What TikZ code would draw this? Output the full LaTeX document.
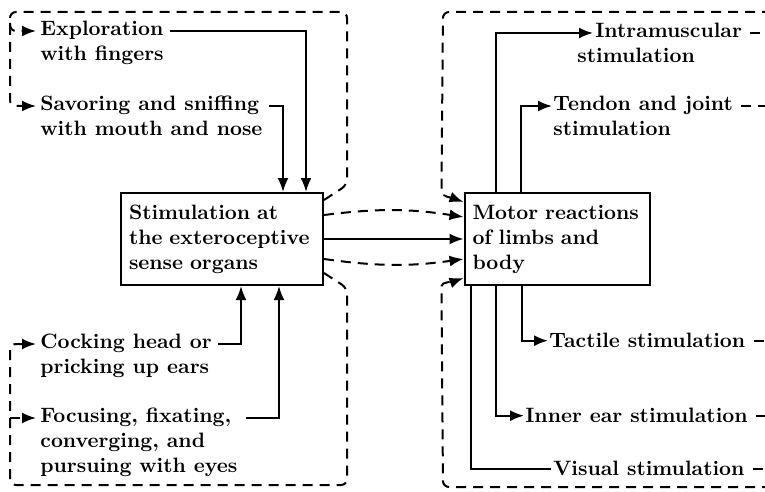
\documentclass[tikz,border=0pt]{standalone}
\usepackage{tikz}
\usetikzlibrary{arrows.meta}
\begin{document}
\begin{tikzpicture}[
    x=0.5pt, y=-0.5pt,
    font=\fontsize{10.4}{12.5}\selectfont\bfseries,
    box/.style={
        rectangle,
        draw,
        line width=1pt,
        align=left,
        inner xsep=4pt,
        minimum height=46pt
    },
    lbl/.style={
        inner sep=0pt,
        align=left,
        anchor=north west
    },
    arrow/.style={
        -{Latex[length=7pt, width=5.5pt]},
        line width=1pt
    },
    dashedarrow/.style={
        -{Latex[length=7pt, width=5.5pt]},
        line width=1pt,
        dash pattern=on 5pt off 3.5pt
    },
    dashedline/.style={
        line width=1pt,
        dash pattern=on 5pt off 3.5pt
    }
]
\useasboundingbox (0,0) rectangle (765,492);

% Cajas principales
\node[box, text width=93pt] (stim) at (222,239) {Stimulation at\\the exteroceptive\\sense organs};
\node[box, text width=84.5pt] (motor) at (557,239) {Motor reactions\\of limbs and\\body};

% Etiquetas
\node[lbl] (explore) at (40,21) {Exploration\\with fingers};
\node[lbl] (savor) at (40,96) {Savoring and sniffing\\with mouth and nose};
\node[lbl] (cock) at (40,334) {Cocking head or\\pricking up ears};
\node[lbl] (focus) at (40,408) {Focusing, fixating,\\converging, and\\pursuing with eyes};
\node[lbl] (intra) at (577,23) {\hspace*{9pt}Intramuscular\\stimulation};
\node[lbl] (tendon) at (553,96) {Tendon and joint\\stimulation};
\node[lbl] (tactile) at (549,333) {Tactile stimulation};
\node[lbl] (inner) at (525,408) {Inner ear stimulation};
\node[lbl] (visual) at (553,461) {Visual stimulation};

% Marcos punteados
\coordinate (ltl) at (10,12);
\coordinate (lbl) at (10,485);
\coordinate (rtl) at (443,12);
\coordinate (rtr) at (772,12);
\coordinate (rbl) at (443,487);
\coordinate (rbr) at (772,487);
\coordinate (explorein) at ([xshift=-2pt,yshift=-5pt]explore.north west);
\coordinate (savorin) at ([xshift=-2pt,yshift=-5pt]savor.north west);
\coordinate (cockin) at ([xshift=-2pt,yshift=-5pt]cock.north west);
\coordinate (focusin) at ([xshift=-2pt,yshift=-5pt]focus.north west);

% Flechas hacia los organos
\draw[arrow] ([xshift=3pt,yshift=-5pt]explore.north east) -| ([xshift=-9pt]stim.north east);
\draw[arrow] ([xshift=3pt,yshift=-5pt]savor.north east) -| ([xshift=-20.5pt]stim.north east);
\draw[arrow] ([xshift=3pt,yshift=-5pt]cock.north east) -| ([xshift=-41.5pt]stim.south east);
\draw[arrow] ([xshift=4pt,yshift=-5pt]focus.north east) -| ([xshift=-22.5pt]stim.south east);

% Retroalimentacion izquierda
\draw[dashedarrow, rounded corners=3pt] ([yshift=-4pt]stim.north east) -- ++(11.5pt,7.5pt) |- (ltl) |- (savorin);
\draw[dashedarrow, rounded corners=3pt] (explorein -| ltl) ++(0,-8) |- (explorein);
\draw[dashedarrow, rounded corners=3pt] ([yshift=6.5pt]stim.south east) -- ++(11.5pt,-7.5pt) |- (lbl) |- (cockin);
\draw[dashedarrow] (focusin -| lbl) -- (focusin);

% Conexiones centrales
\draw[dashedarrow] ([yshift=-11.5pt]stim.north east) to[bend left=8] ([yshift=-12.5pt]motor.north west);
\draw[arrow] (stim.east) -- (motor.west);
\draw[dashedarrow] ([yshift=13.5pt]stim.south east) to[bend right=8] ([yshift=13.5pt]motor.south west);

% Salidas motoras
\draw[arrow] ([xshift=16pt]motor.north west) |- ([xshift=8pt,yshift=-5pt]intra.north west);
\draw[arrow] ([xshift=28.5pt]motor.north west) |- ([xshift=-0.5pt,yshift=-5pt]tendon.north west);
\draw[arrow] ([xshift=29pt]motor.south west) |- ([xshift=-0.5pt]tactile.west);
\draw[arrow] ([xshift=16pt]motor.south west) |- ([xshift=-0.5pt]inner.west);
\draw[line width=1pt] ([xshift=3.5pt]motor.south west) |- ([xshift=-1pt]visual.west);

% Retroalimentacion derecha
\draw[dashedline] ([xshift=4pt,yshift=-5pt]intra.north east) -| (rtr);
\draw[dashedline] ([xshift=4pt,yshift=-5pt]tendon.north east) -| (rtr);
\draw[dashedline] ([xshift=4pt]tactile.east) -| (rbr);
\draw[dashedline] ([xshift=4pt]inner.east) -| (rbr);
\draw[dashedline] ([xshift=4pt]visual.east) -| (rbr);
\draw[dashedarrow, rounded corners=3pt] (rtr) -- (rtl) -- ([xshift=-11pt,yshift=3pt]motor.north west) to[out=-90,in=160] ([yshift=-5pt]motor.north west);
\draw[dashedarrow, rounded corners=3pt] (rbr) -- (rbl) -- ([xshift=-11pt,yshift=-3pt]motor.south west) to[out=90,in=200] ([yshift=4pt]motor.south west);

\end{tikzpicture}
\end{document}
